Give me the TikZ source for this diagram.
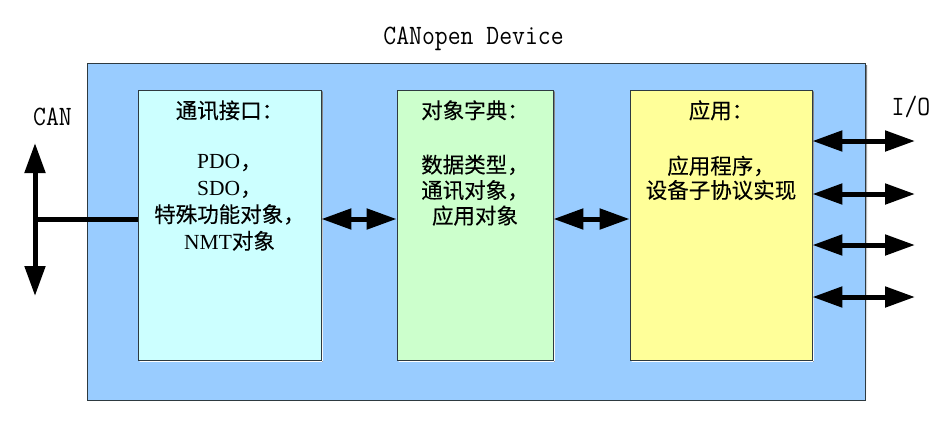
\documentclass[tikz,border=0pt]{standalone}
\usepackage{fontspec}
\usepackage{graphicx}
\newfontfamily\cjk[FakeBold=0.2]{Noto Sans CJK SC}
\newfontfamily\latser{Liberation Serif}
\usetikzlibrary{arrows.meta}
\definecolor{outerblue}{HTML}{99CCFF}
\definecolor{boxcyan}{HTML}{CCFFFF}
\definecolor{boxgreen}{HTML}{CCFFCC}
\definecolor{boxyellow}{HTML}{FFFF99}
\definecolor{edge}{HTML}{2E3A40}
\definecolor{shade}{HTML}{56636B}
\begin{document}
\begin{tikzpicture}[x=1pt,y=-1pt,
  outerbox/.style={draw=edge,line width=1pt,fill=outerblue,minimum width=778pt,minimum height=337pt,inner sep=0pt},
  modbox/.style={draw=edge,line width=0.8pt,minimum width=#1,minimum height=270pt,inner sep=0pt},
  lbl/.style={font=\ttfamily\fontsize{25}{25}\selectfont,inner sep=0pt,anchor=base},
  head/.style={font=\cjk\fontsize{21.5}{21.5}\selectfont,inner sep=0pt,anchor=base},
  body/.style={font=\cjk\fontsize{21.5}{#1}\selectfont,inner sep=0pt,anchor=north,align=center},
  conn/.style={line width=5pt,{Triangle[length=30pt,width=20pt]}-{Triangle[length=30pt,width=20pt]}},
  bar/.style={line width=5pt}
]
\useasboundingbox (0,0) rectangle (947,429);
% outer device box
\fill[shade] (89,65) rectangle (867,403);
\node[outerbox] (dev) at (476,231.5) {};
\node[lbl] (title) at (473.5,44.3) {\scalebox{1}[1.12]{CANopen Device}};
% module boxes with slight shadow
\fill[shade] (139.5,91.5) rectangle (322.5,361.5);
\fill[shade] (398.5,91.5) rectangle (554.5,361.5);
\fill[shade] (631.5,91.5) rectangle (813.5,361.5);
\node[modbox=183pt,fill=boxcyan] (comm) at (229.5,225) {};
\node[modbox=156pt,fill=boxgreen] (dict) at (475,225) {};
\node[modbox=182pt,fill=boxyellow] (app) at (721,225) {};
% headings
\node[head] (commh) at (229.5,118.5) {通讯接口：};
\node[head] (dicth) at (475,118.5) {对象字典：};
\node[head] (apph) at (721,118.5) {应用：};
% bodies
\node[body=26.7] (commb) at (229.5,154.5) {{\latser PDO}，\\{\latser SDO}，\\特殊功能对象，\\{\latser NMT}对象};
\node[body=25.5] (dictb) at (475,154.5) {数据类型，\\通讯对象，\\应用对象};
\node[body=24.3] (appb) at (721,155.5) {应用程序，\\设备子协议实现};
% CAN bus
\node[lbl] (can) at (52.5,125) {\scalebox{1}[1.12]{CAN}};
\coordinate (cantop) at (35,143);
\coordinate (canbot) at (35,296);
\coordinate (canmid) at (35,219);
\draw[conn] (cantop) -- (canbot);
\draw[bar] (canmid) -- (canmid -| comm.west);
% internal links
\coordinate (link) at (0,219);
\draw[conn] (comm.east |- link) -- (dict.west |- link);
\draw[conn] (dict.east |- link) -- (app.west |- link);
% I/O
\node[lbl] (io) at (911,115) {\scalebox{1}[1.12]{I/O}};
\coordinate (io1) at (915,141);
\coordinate (io2) at (915,194);
\coordinate (io3) at (915,245);
\coordinate (io4) at (915,297);
\draw[conn] (app.east |- io1) -- (io1);
\draw[conn] (app.east |- io2) -- (io2);
\draw[conn] (app.east |- io3) -- (io3);
\draw[conn] (app.east |- io4) -- (io4);
\end{tikzpicture}
\end{document}
